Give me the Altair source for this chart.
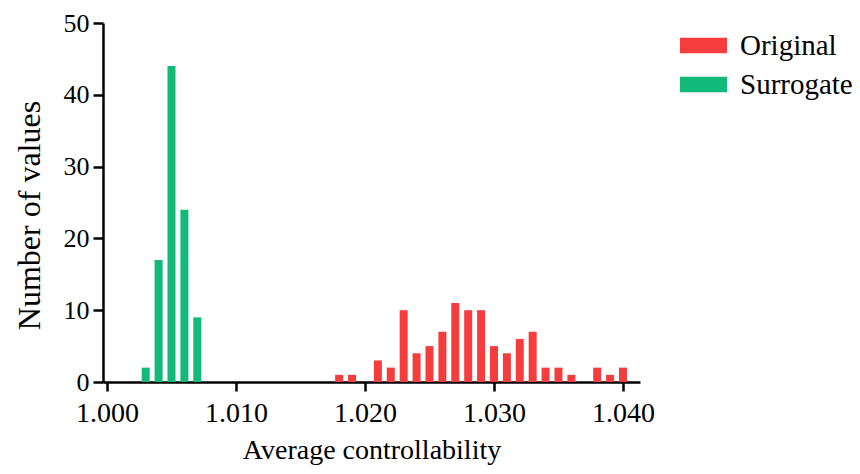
import altair as alt
import pandas as pd

orig_x = [1.018, 1.019, 1.021, 1.022, 1.023, 1.024, 1.025, 1.026, 1.027, 1.028, 1.029,
          1.030, 1.031, 1.032, 1.033, 1.034, 1.035, 1.036, 1.038, 1.039, 1.040]
orig_n = [1, 1, 3, 2, 10, 4, 5, 7, 11, 10, 10, 5, 4, 6, 7, 2, 2, 1, 2, 1, 2]
surr_x = [1.003, 1.004, 1.005, 1.006, 1.007]
surr_n = [2, 17, 44, 24, 9]
x_ticks = [1.000, 1.010, 1.020, 1.030, 1.040]
y_ticks = [0, 10, 20, 30, 40, 50]
series = ["Original", "Surrogate"]
colors = ["#F53D3D", "#13B979"]

df = pd.DataFrame({
    "value": orig_x + surr_x,
    "count": orig_n + surr_n,
    "series": ["Original"] * len(orig_x) + ["Surrogate"] * len(surr_x),
})

font = "Liberation Serif"

chart = alt.Chart(df).mark_bar(size=8).encode(
    x=alt.X("value:Q",
            scale=alt.Scale(domain=[0.99969, 1.04132], nice=False, zero=False, padding=0),
            axis=alt.Axis(title="Average controllability", values=x_ticks, format=".3f",
                          grid=False, domainColor="black", domainWidth=2.5,
                          tickColor="black", tickWidth=2.5, tickSize=9,
                          labelFont=font, labelFontSize=28, labelColor="black",
                          labelPadding=8, labelFlush=False,
                          titleFont=font, titleFontSize=28, titleFontWeight="normal",
                          titleColor="black", titlePadding=9)),
    y=alt.Y("count:Q",
            scale=alt.Scale(domain=[0, 50], nice=False, padding=0),
            axis=alt.Axis(title="Number of values", values=y_ticks,
                          grid=False, domainColor="black", domainWidth=2.5,
                          tickColor="black", tickWidth=2.5, tickSize=10,
                          labelFont=font, labelFontSize=26, labelColor="black",
                          labelPadding=4,
                          titleFont=font, titleFontSize=32, titleFontWeight="normal",
                          titleColor="black", titleBaseline="alphabetic",
                          titleX=-64, titleY=192)),
    color=alt.Color("series:N",
                    scale=alt.Scale(domain=series, range=colors),
                    legend=alt.Legend(title=None, orient="none", legendX=577, legendY=-1,
                                      padding=0,
                                      symbolType="M-1,-0.33L1,-0.33L1,0.33L-1,0.33Z",
                                      symbolSize=2209, symbolStrokeWidth=0,
                                      labelFont=font, labelFontSize=29, labelColor="black",
                                      labelOffset=13, rowPadding=-3)),
).properties(
    width=537, height=359,
    autosize=alt.AutoSizeParams(type="none"),
    padding={"left": 95, "top": 15, "right": 212, "bottom": 84},
).configure_view(stroke=None)

chart.save("out.html", embed_options={"renderer": "svg", "actions": False})
